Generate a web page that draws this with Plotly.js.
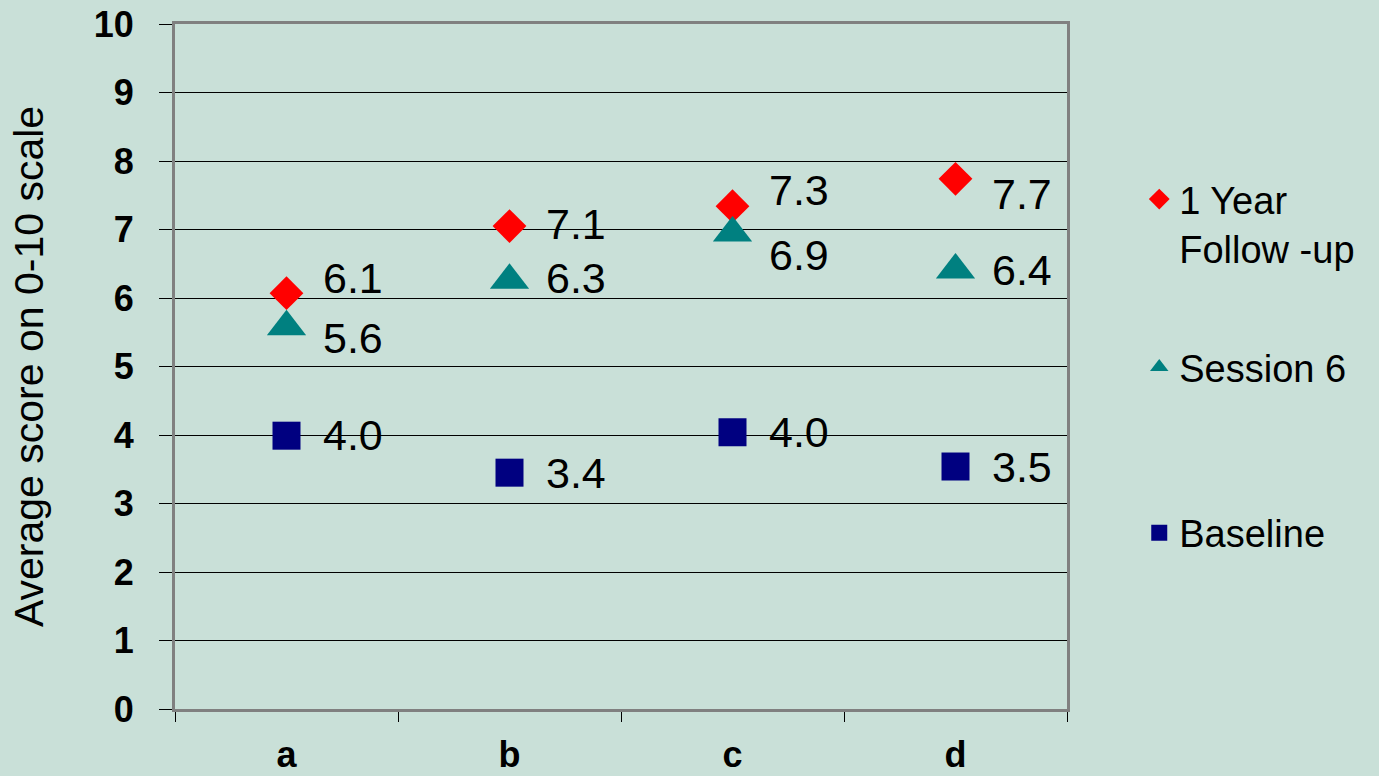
<!DOCTYPE html>
<html>
<head>
<meta charset="utf-8">
<script src="https://cdn.plot.ly/plotly-3.0.1.min.js"></script>
<style>html,body{margin:0;padding:0;background:#C9E0D8;}#chart{width:1379px;height:776px;}</style>
</head>
<body>
<div id="chart"></div>
<script>
// ---- data ----
const categories = ['a', 'b', 'c', 'd'];
const followUp = [6.07, 7.05, 7.34, 7.74];
const session6 = [5.58, 6.26, 6.95, 6.41];
const baseline = [3.99, 3.45, 4.04, 3.54];
const followUpLabels = ['6.1', '7.1', '7.3', '7.7'];
const session6Labels = ['5.6', '6.3', '6.9', '6.4'];
const baselineLabels = ['4.0', '3.4', '4.0', '3.5'];
const yTickVals = [0, 1, 2, 3, 4, 5, 6, 7, 8, 9, 10];
const seriesNames = ['1 Year<br>Follow -up', 'Session 6', 'Baseline'];

// ---- label placement (pixel nudges, style only) ----
const followUpShift = [15, 2, 16, -15];
const session6Shift = [-11, 2, -22, 0];
const baselineShift = [1, 0, 0, 0];

const FONT = 'Liberation Sans, Arial, sans-serif';
const BG = '#C9E0D8';

const traces = [
  {x: categories, y: followUp, name: seriesNames[0], type: 'scatter', mode: 'markers',
   marker: {symbol: 'diamond', size: 26, color: '#FF0000', line: {width: 0}}, legend: 'legend'},
  {x: categories, y: session6, name: seriesNames[1], type: 'scatter', mode: 'markers',
   marker: {symbol: 'triangle-up', size: 34, color: '#008080', line: {width: 0}}, legend: 'legend2'},
  {x: categories, y: baseline, name: seriesNames[2], type: 'scatter', mode: 'markers',
   marker: {symbol: 'square', size: 28, color: '#000080', line: {width: 0}}, legend: 'legend3'}
];

const annotations = [];
function addLabels(vals, labels, shifts) {
  categories.forEach((c, i) => {
    annotations.push({x: c, y: vals[i], xref: 'x', yref: 'y', text: labels[i], showarrow: false,
      xanchor: 'left', yanchor: 'middle', xshift: 34, yshift: shifts[i],
      font: {family: FONT, size: 43, color: '#000000'}});
  });
}
addLabels(followUp, followUpLabels, followUpShift);
addLabels(session6, session6Labels, session6Shift);
addLabels(baseline, baselineLabels, baselineShift);

const legendCommon = {bgcolor: 'rgba(0,0,0,0)', borderwidth: 0, xanchor: 'left',
  font: {family: FONT, size: 38, color: '#000000'}, itemsizing: 'trace'};

const layout = {
  width: 1379, height: 776,
  paper_bgcolor: BG, plot_bgcolor: BG,
  margin: {l: 175, r: 312, t: 24, b: 67},
  showlegend: true,
  xaxis: {
    type: 'category', range: [-0.5, 3.5], tickson: 'boundaries',
    ticks: 'outside', ticklen: 10, tickwidth: 1, tickcolor: '#000000',
    showline: true, linecolor: '#808080', linewidth: 3, mirror: true,
    showgrid: false, zeroline: false,
    tickfont: {family: FONT, size: 36, color: '#000000', weight: 'bold'},
    ticklabelstandoff: 12, fixedrange: true
  },
  yaxis: {
    range: [0, 10], tickvals: yTickVals, ticktext: yTickVals.map(String),
    ticks: 'outside', ticklen: 13, tickwidth: 1, tickcolor: '#000000',
    showline: true, linecolor: '#808080', linewidth: 3, mirror: true,
    showgrid: true, gridcolor: '#000000', gridwidth: 1, zeroline: false,
    tickfont: {family: FONT, size: 36, color: '#000000', weight: 'bold'},
    ticklabelstandoff: 18,
    title: {text: 'Average score on 0-10 scale', font: {family: FONT, size: 41, color: '#000000'}, standoff: 38},
    fixedrange: true
  },
  legend: Object.assign({}, legendCommon, {x: 1.081, y: 0.79, yanchor: 'top', valign: 'top'}),
  legend2: Object.assign({}, legendCommon, {x: 1.081, y: 0.499, yanchor: 'middle'}),
  legend3: Object.assign({}, legendCommon, {x: 1.081, y: 0.257, yanchor: 'middle'}),
  annotations: annotations
};

Plotly.newPlot('chart', traces, layout, {displayModeBar: false, staticPlot: true});
</script>
</body>
</html>
